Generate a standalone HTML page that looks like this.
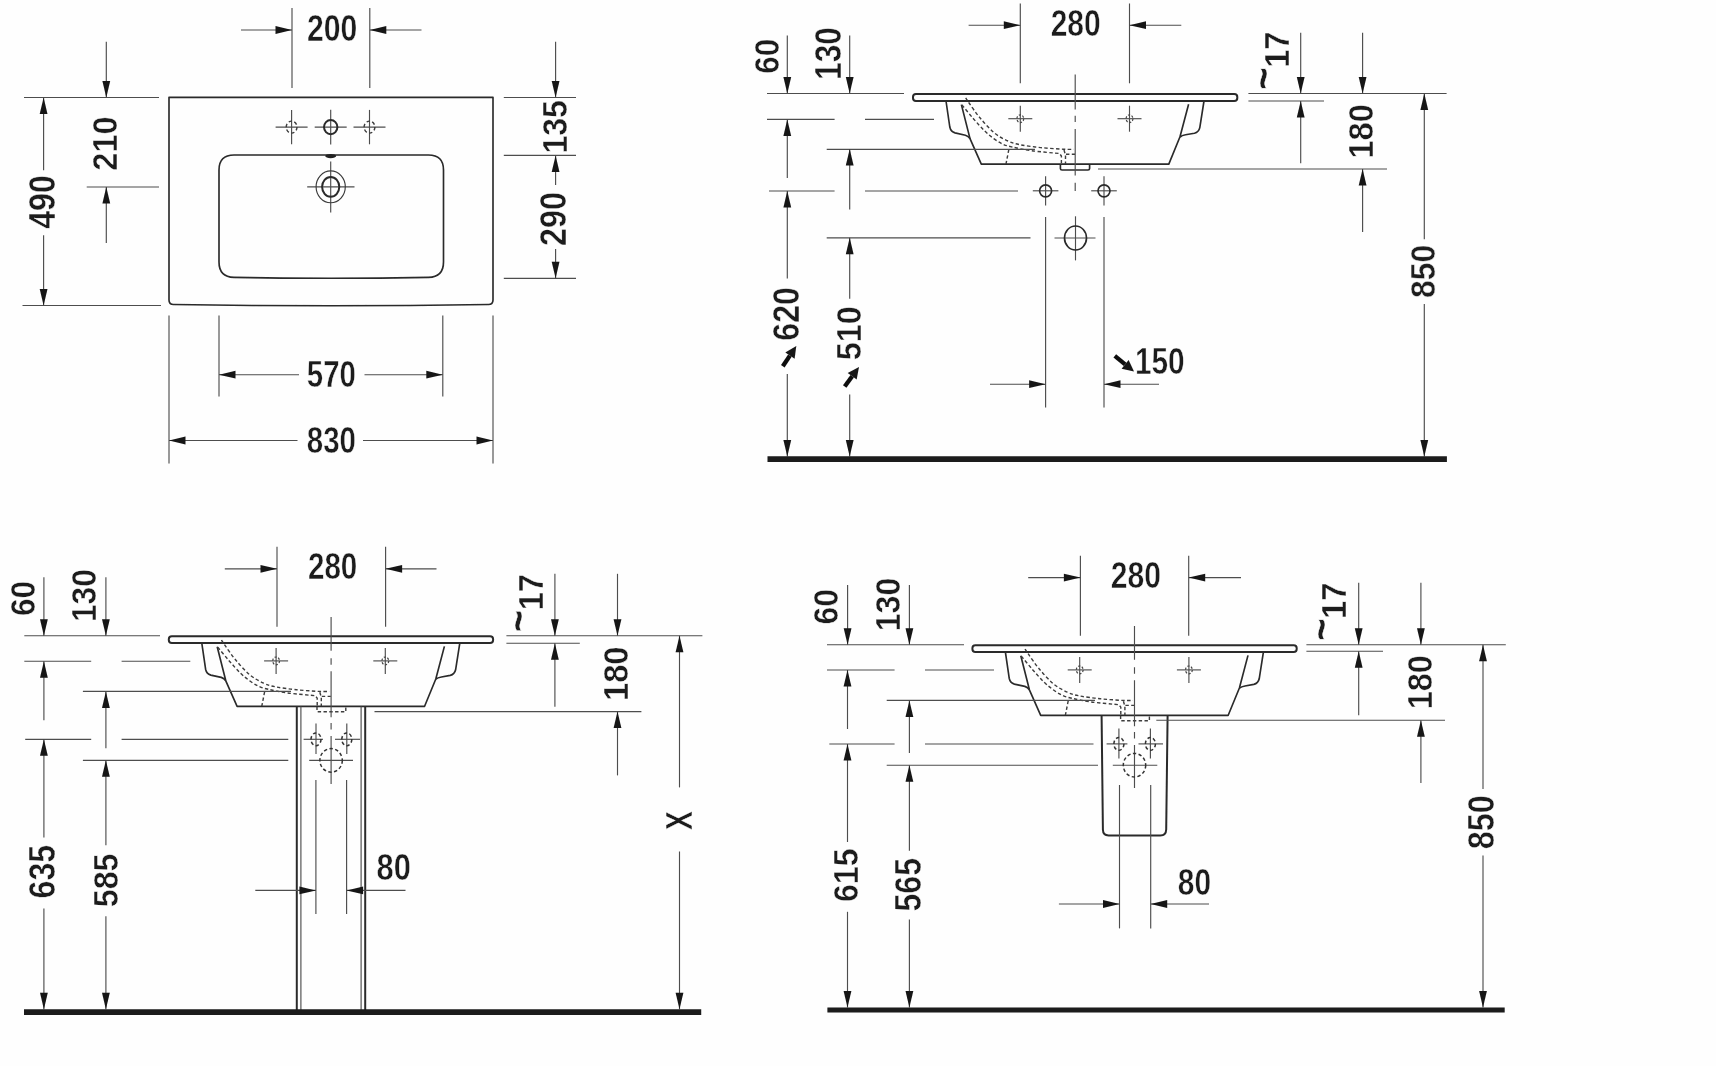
<!DOCTYPE html>
<html><head><meta charset="utf-8"><title>Drawing</title>
<style>
html,body{margin:0;padding:0;background:#fff;}
svg{display:block}
svg text{font-family:"Liberation Sans",sans-serif;font-weight:bold;fill:#1c1c1c;stroke:#fefefe;stroke-width:0.45;vector-effect:non-scaling-stroke;}
.d{stroke:#4d4d4d;stroke-width:1.15;fill:none}
.o{stroke:#2a2a2a;stroke-width:1.65;fill:none;stroke-linejoin:round}
.o2{stroke:#3a3a3a;stroke-width:1.15;fill:none}
.o3{stroke:#2a2a2a;stroke-width:2;fill:none;stroke-linejoin:round}
.hid{stroke:#3c3c3c;stroke-width:1.4;fill:none;stroke-dasharray:3.4 2.4}
.hidc{stroke:#333;stroke-width:1.5;fill:none;stroke-dasharray:3.4 2.4}
.hid2{stroke:#444;stroke-width:1.2;fill:none;stroke-dasharray:2.2 1.6}
.cl{stroke:#444;stroke-width:1.15;fill:none;stroke-dasharray:26 5 6 5}
.h{fill:#161616;stroke:none}
.fl{stroke:#1a1a1a;stroke-width:5.4;fill:none}
</style></head><body>
<svg width="1716" height="1066" viewBox="0 0 1716 1066">
<defs><filter id="sf" x="0" y="0" width="1716" height="1066" filterUnits="userSpaceOnUse"><feGaussianBlur stdDeviation="0.45"/></filter></defs>
<rect width="1716" height="1066" fill="#fefefe"/>
<g filter="url(#sf)">
<path class="o" d="M169 97.3H493V300Q493 304.5 488.5 304.5Q331 307 173.5 304.5Q169 304.5 169 300Z"/>
<path class="o" d="M234 155H428.5Q443.5 155 443.5 170V262Q443.5 277 428.5 277.4Q331 279.2 234 277.4Q219 277 219 262V170Q219 155 234 155Z"/>
<path class="d" d="M275.6 127.1L307.6 127.1"/>
<path class="d" d="M291.6 109.9L291.6 144.3"/>
<ellipse class="hid" cx="291.6" cy="127.1" rx="5.4" ry="6"/>
<path class="d" d="M353.5 127.1L385.5 127.1"/>
<path class="d" d="M369.5 109.9L369.5 144.3"/>
<ellipse class="hid" cx="369.5" cy="127.1" rx="5.4" ry="6"/>
<path class="d" d="M314.7 127.1L346.7 127.1"/>
<path class="d" d="M330.7 109.7L330.7 144.5"/>
<ellipse class="o3" cx="330.7" cy="127.1" rx="6.7" ry="7.1"/>
<ellipse cx="330.7" cy="156.1" rx="5.5" ry="2.1" fill="#222"/>
<path class="d" d="M307.2 186.8L354.5 186.8"/>
<path class="d" d="M330.7 161.4L330.7 212.6"/>
<ellipse class="o2" cx="330.7" cy="186.8" rx="14.6" ry="15.9"/>
<ellipse class="o3" cx="330.7" cy="186.8" rx="8.6" ry="9.9"/>
<path class="d" d="M292.0 8.0L292.0 88.0"/>
<path class="d" d="M369.8 8.0L369.8 88.0"/>
<path class="d" d="M241.0 30.0L292.0 30.0"/>
<polygon class="h" points="292.0,30.0 275.5,26.1 275.5,33.9"/>
<path class="d" d="M421.5 30.0L369.8 30.0"/>
<polygon class="h" points="369.8,30.0 386.3,26.1 386.3,33.9"/>
<text transform="translate(307.02 41.24) scale(0.8380 1.0459)" font-size="36">200</text>
<path class="d" d="M24.0 97.5L159.0 97.5"/>
<path class="d" d="M22.5 305.5L161.0 305.5"/>
<path class="d" d="M43.6 97.5L43.6 170.3"/>
<path class="d" d="M43.6 235.3L43.6 305.5"/>
<polygon class="h" points="43.6,97.5 39.7,114.0 47.5,114.0"/>
<polygon class="h" points="43.6,305.5 39.7,289.0 47.5,289.0"/>
<text transform="translate(55.16 228.80) rotate(-90) scale(0.8913 1.0027)" font-size="36">490</text>
<path class="d" d="M86.7 187.0L159.0 187.0"/>
<path class="d" d="M106.3 41.7L106.3 97.5"/>
<polygon class="h" points="106.3,97.5 102.4,81.0 110.2,81.0"/>
<path class="d" d="M106.3 243.0L106.3 187.0"/>
<polygon class="h" points="106.3,187.0 102.4,203.5 110.2,203.5"/>
<text transform="translate(116.66 170.66) rotate(-90) scale(0.9060 0.9988)" font-size="36">210</text>
<path class="d" d="M503.8 97.5L576.0 97.5"/>
<path class="d" d="M503.8 155.4L576.0 155.4"/>
<path class="d" d="M503.8 278.3L576.0 278.3"/>
<path class="d" d="M555.6 41.7L555.6 97.5"/>
<polygon class="h" points="555.6,97.5 551.7,81.0 559.5,81.0"/>
<text transform="translate(567.37 153.52) rotate(-90) scale(0.8882 0.9992)" font-size="36">135</text>
<path class="d" d="M555.6 185.0L555.6 155.4"/>
<polygon class="h" points="555.6,155.4 551.7,171.9 559.5,171.9"/>
<text transform="translate(565.86 246.05) rotate(-90) scale(0.8990 1.0067)" font-size="36">290</text>
<path class="d" d="M555.6 249.0L555.6 278.3"/>
<polygon class="h" points="555.6,278.3 551.7,261.8 559.5,261.8"/>
<path class="d" d="M219.0 315.5L219.0 396.5"/>
<path class="d" d="M442.8 315.5L442.8 396.5"/>
<path class="d" d="M299.0 374.7L219.0 374.7"/>
<polygon class="h" points="219.0,374.7 235.5,370.8 235.5,378.6"/>
<path class="d" d="M364.5 374.7L442.8 374.7"/>
<polygon class="h" points="442.8,374.7 426.3,370.8 426.3,378.6"/>
<text transform="translate(306.83 386.85) scale(0.8157 1.0381)" font-size="36">570</text>
<path class="d" d="M169.0 315.5L169.0 463.6"/>
<path class="d" d="M493.0 315.5L493.0 463.6"/>
<path class="d" d="M297.5 440.5L169.0 440.5"/>
<polygon class="h" points="169.0,440.5 185.5,436.6 185.5,444.4"/>
<path class="d" d="M363.0 440.5L493.0 440.5"/>
<polygon class="h" points="493.0,440.5 476.5,436.6 476.5,444.4"/>
<text transform="translate(306.82 452.95) scale(0.8192 1.0501)" font-size="36">830</text>
<g transform="translate(0.0 0.0)">
<rect class="o3" x="913" y="94" width="324.3" height="6.9" rx="3"/>
<path class="o" d="M961.4 104.6L970 138.6L981.3 164.1H1168.8L1180 136.8L1188.6 104.2"/>
<path class="o" d="M946 101L949.8 127Q950.8 131.6 955 132.9L965.4 135.2Q968.6 136.2 970 138.6"/>
<path class="o" d="M1204 101L1199.8 127.6Q1198.8 132.2 1194.4 133.2L1185.6 134.8Q1181.8 135.5 1180 137"/>
<path class="hid" d="M965.7 97.8C966.3 98.8 967.1 100.2 969.4 103.5C971.7 106.8 975.6 112.7 979.7 117.5C983.8 122.3 989.1 128.6 993.8 132.5C998.5 136.4 1003.5 139.0 1007.9 141.0C1012.3 143.0 1014.5 143.6 1020.0 144.7C1025.5 145.8 1033.5 146.8 1040.7 147.6C1047.9 148.3 1057.7 148.9 1063.2 149.2C1068.7 149.5 1071.8 149.3 1073.5 149.3"/>
<path class="hid" d="M961.9 104.9C963.8 107.2 969.5 114.2 973.2 118.5C977.0 122.8 981.0 127.3 984.4 130.7C987.8 134.0 990.7 136.3 993.8 138.6C996.9 140.9 1000.1 142.9 1003.2 144.3C1006.3 145.7 1007.9 146.0 1012.6 147.1C1017.3 148.2 1023.5 149.6 1031.3 150.7C1039.1 151.8 1054.8 153.0 1059.5 153.5L1061.4 156V164"/>
<path class="hid" d="M1064 150L1065.5 155V164M1066 154.2H1075"/>
<path class="hid" d="M1008.8 149.6L1006 164"/>
<path class="d" d="M1008.3 118.7L1032.3 118.7"/>
<path class="d" d="M1020.3 105.7L1020.3 131.7"/>
<ellipse class="hid2" cx="1020.3" cy="118.7" rx="3.4" ry="3.9"/>
<path class="d" d="M1117.5 118.7L1141.5 118.7"/>
<path class="d" d="M1129.5 105.7L1129.5 131.7"/>
<ellipse class="hid2" cx="1129.5" cy="118.7" rx="3.4" ry="3.9"/>
<path class="o" d="M1060.4 164.2V168.4Q1060.4 170 1062 170H1088Q1089.6 170 1089.6 168.4V164.2"/>
</g>
<path class="d" d="M1075.2 74.4V109.5M1075.2 115.7V121.9M1075.2 129.0V175.5M1075.2 182.7V191.0"/>
<path class="d" d="M1020.3 3.5L1020.3 83.3"/>
<path class="d" d="M1129.5 3.5L1129.5 83.3"/>
<path class="d" d="M968.6 25.2L1020.3 25.2"/>
<polygon class="h" points="1020.3,25.2 1003.8,21.3 1003.8,29.1"/>
<path class="d" d="M1181.3 25.2L1129.5 25.2"/>
<polygon class="h" points="1129.5,25.2 1146.0,21.3 1146.0,29.1"/>
<text transform="translate(1050.63 36.44) scale(0.8327 1.0420)" font-size="36">280</text>
<path class="d" d="M767.0 93.5L904.0 93.5"/>
<path class="d" d="M767.0 119.4L834.6 119.4"/>
<path class="d" d="M865.0 119.4L934.0 119.4"/>
<path class="d" d="M826.7 149.4L1035.0 149.4"/>
<path class="d" d="M769.0 191.0L834.6 191.0"/>
<path class="d" d="M865.0 191.0L1018.0 191.0"/>
<path class="d" d="M826.7 237.8L1030.5 237.8"/>
<path class="d" d="M787.3 35.6L787.3 93.5"/>
<polygon class="h" points="787.3,93.5 783.4,77.0 791.2,77.0"/>
<text transform="translate(778.76 73.79) rotate(-90) scale(0.8701 0.9910)" font-size="36">60</text>
<path class="d" d="M849.7 35.6L849.7 93.5"/>
<polygon class="h" points="849.7,93.5 845.8,77.0 853.6,77.0"/>
<text transform="translate(840.57 79.89) rotate(-90) scale(0.8758 1.0070)" font-size="36">130</text>
<path class="d" d="M787.3 178.0L787.3 119.4"/>
<polygon class="h" points="787.3,119.4 783.4,135.9 791.2,135.9"/>
<path class="d" d="M849.7 209.5L849.7 149.0"/>
<polygon class="h" points="849.7,149.0 845.8,165.5 853.6,165.5"/>
<path class="d" d="M787.3 191.0L787.3 278.4"/>
<polygon class="h" points="787.3,191.0 783.4,207.5 791.2,207.5"/>
<text transform="translate(798.66 340.73) rotate(-90) scale(0.8952 1.0027)" font-size="36">620</text>
<path d="M782.8 366.3L789.9 355.6" stroke="#111" stroke-width="4.3" fill="none"/>
<polygon class="h" points="796.3,346.0 794.6,358.7 785.3,352.5"/>
<path class="d" d="M787.3 374.0L787.3 456.6"/>
<polygon class="h" points="787.3,456.6 783.4,440.1 791.2,440.1"/>
<path class="d" d="M849.7 237.8L849.7 298.7"/>
<polygon class="h" points="849.7,237.8 845.8,254.3 853.6,254.3"/>
<text transform="translate(861.07 360.27) rotate(-90) scale(0.8993 0.9635)" font-size="36">510</text>
<path d="M844.7 386.5L852.2 376.3" stroke="#111" stroke-width="4.3" fill="none"/>
<polygon class="h" points="859.0,367.0 856.7,379.6 847.7,373.0"/>
<path class="d" d="M849.7 394.4L849.7 456.6"/>
<polygon class="h" points="849.7,456.6 845.8,440.1 853.6,440.1"/>
<path class="d" d="M1032.8 190.8L1058.4 190.8"/>
<path class="d" d="M1045.6 176.2L1045.6 205.4"/>
<circle class="o" cx="1045.6" cy="190.8" r="6"/>
<path class="d" d="M1045.6 217.0L1045.6 407.5"/>
<path class="d" d="M1091.2 190.8L1116.8 190.8"/>
<path class="d" d="M1104.0 176.2L1104.0 205.4"/>
<circle class="o" cx="1104" cy="190.8" r="6"/>
<path class="d" d="M1104.0 217.0L1104.0 407.5"/>
<path class="d" d="M1054.5 238.0L1095.5 238.0"/>
<path class="d" d="M1075.5 216.3L1075.5 260.4"/>
<ellipse class="o" cx="1075.5" cy="238" rx="11" ry="12"/>
<path class="d" d="M990.0 384.2L1045.6 384.2"/>
<polygon class="h" points="1045.6,384.2 1029.1,380.3 1029.1,388.1"/>
<path class="d" d="M1159.0 384.2L1104.0 384.2"/>
<polygon class="h" points="1104.0,384.2 1120.5,380.3 1120.5,388.1"/>
<path d="M1114.8 355.9L1125.1 364.3" stroke="#111" stroke-width="4.3" fill="none"/>
<polygon class="h" points="1134.0,371.6 1121.6,368.7 1128.6,360.0"/>
<text transform="translate(1134.92 374.06) scale(0.8278 1.0067)" font-size="36">150</text>
<path class="d" d="M1248.4 93.5L1446.6 93.5"/>
<path class="d" d="M1248.4 101.0L1324.0 101.0"/>
<path class="d" d="M1098.0 169.0L1387.0 169.0"/>
<path class="d" d="M1300.7 32.7L1300.7 93.5"/>
<polygon class="h" points="1300.7,93.5 1296.8,77.0 1304.6,77.0"/>
<path class="d" d="M1300.7 163.3L1300.7 101.0"/>
<polygon class="h" points="1300.7,101.0 1296.8,117.5 1304.6,117.5"/>
<text transform="translate(1288.52 67.87) rotate(-90) scale(0.9104 0.9632)" font-size="36">17</text>
<text transform="translate(1279.07 89.75) rotate(-90) scale(1.0640 1.2593)" font-size="36">~</text>
<path class="d" d="M1362.6 32.7L1362.6 93.5"/>
<polygon class="h" points="1362.6,93.5 1358.7,77.0 1366.5,77.0"/>
<text transform="translate(1373.47 158.56) rotate(-90) scale(0.9077 0.9792)" font-size="36">180</text>
<path class="d" d="M1362.6 232.0L1362.6 169.0"/>
<polygon class="h" points="1362.6,169.0 1358.7,185.5 1366.5,185.5"/>
<path class="d" d="M1424.3 93.5L1424.3 239.3"/>
<polygon class="h" points="1424.3,93.5 1420.4,110.0 1428.2,110.0"/>
<text transform="translate(1435.37 298.16) rotate(-90) scale(0.8889 0.9792)" font-size="36">850</text>
<path class="d" d="M1424.3 304.0L1424.3 456.4"/>
<polygon class="h" points="1424.3,456.4 1420.4,439.9 1428.2,439.9"/>
<path class="fl" d="M767.5 459.2H1446.9" style="stroke-width:5.7"/>
<g transform="translate(-744.2 542.2)">
<rect class="o3" x="913" y="94" width="324.3" height="6.9" rx="3"/>
<path class="o" d="M961.4 104.6L970 138.6L981.3 164.1H1168.8L1180 136.8L1188.6 104.2"/>
<path class="o" d="M946 101L949.8 127Q950.8 131.6 955 132.9L965.4 135.2Q968.6 136.2 970 138.6"/>
<path class="o" d="M1204 101L1199.8 127.6Q1198.8 132.2 1194.4 133.2L1185.6 134.8Q1181.8 135.5 1180 137"/>
<path class="hid" d="M965.7 97.8C966.3 98.8 967.1 100.2 969.4 103.5C971.7 106.8 975.6 112.7 979.7 117.5C983.8 122.3 989.1 128.6 993.8 132.5C998.5 136.4 1003.5 139.0 1007.9 141.0C1012.3 143.0 1014.5 143.6 1020.0 144.7C1025.5 145.8 1033.5 146.8 1040.7 147.6C1047.9 148.3 1057.7 148.9 1063.2 149.2C1068.7 149.5 1071.8 149.3 1073.5 149.3"/>
<path class="hid" d="M961.9 104.9C963.8 107.2 969.5 114.2 973.2 118.5C977.0 122.8 981.0 127.3 984.4 130.7C987.8 134.0 990.7 136.3 993.8 138.6C996.9 140.9 1000.1 142.9 1003.2 144.3C1006.3 145.7 1007.9 146.0 1012.6 147.1C1017.3 148.2 1023.5 149.6 1031.3 150.7C1039.1 151.8 1054.8 153.0 1059.5 153.5L1061.4 156V164"/>
<path class="hid" d="M1064 150L1065.5 155V164M1066 154.2H1075"/>
<path class="hid" d="M1008.8 149.6L1006 164"/>
<path class="d" d="M1008.3 118.7L1032.3 118.7"/>
<path class="d" d="M1020.3 105.7L1020.3 131.7"/>
<ellipse class="hid2" cx="1020.3" cy="118.7" rx="3.4" ry="3.9"/>
<path class="d" d="M1117.5 118.7L1141.5 118.7"/>
<path class="d" d="M1129.5 105.7L1129.5 131.7"/>
<ellipse class="hid2" cx="1129.5" cy="118.7" rx="3.4" ry="3.9"/>
<path class="hid" d="M1061.2 164.5V169.6H1090V164.5"/>
</g>
<path class="d" d="M331.1 616.9V650.7M331.1 658.2V664.7M331.1 671.3V717.3M331.1 722.9V729.5M331.1 736.0V783.9"/>
<path class="d" d="M277.0 546.8L277.0 626.7"/>
<path class="d" d="M385.6 546.8L385.6 626.7"/>
<path class="d" d="M224.8 568.8L277.0 568.8"/>
<polygon class="h" points="277.0,568.8 260.5,564.9 260.5,572.7"/>
<path class="d" d="M436.5 568.8L385.6 568.8"/>
<polygon class="h" points="385.6,568.8 402.1,564.9 402.1,572.7"/>
<text transform="translate(307.94 579.45) scale(0.8223 1.0224)" font-size="36">280</text>
<path class="d" d="M24.3 635.7L160.0 635.7"/>
<path class="d" d="M24.3 661.2L91.2 661.2"/>
<path class="d" d="M121.6 661.2L190.3 661.2"/>
<path class="d" d="M82.9 691.4L291.0 691.4"/>
<path class="d" d="M25.2 739.3L91.2 739.3"/>
<path class="d" d="M121.6 739.3L288.3 739.3"/>
<path class="d" d="M82.9 760.3L288.3 760.3"/>
<path class="d" d="M43.9 577.2L43.9 635.7"/>
<polygon class="h" points="43.9,635.7 40.0,619.2 47.8,619.2"/>
<text transform="translate(35.06 616.11) rotate(-90) scale(0.8808 0.9949)" font-size="36">60</text>
<path class="d" d="M105.9 577.2L105.9 635.7"/>
<polygon class="h" points="105.9,635.7 102.0,619.2 109.8,619.2"/>
<text transform="translate(96.38 622.11) rotate(-90) scale(0.8829 0.9875)" font-size="36">130</text>
<path class="d" d="M43.9 720.2L43.9 661.2"/>
<polygon class="h" points="43.9,661.2 40.0,677.7 47.8,677.7"/>
<path class="d" d="M105.9 748.3L105.9 691.4"/>
<polygon class="h" points="105.9,691.4 102.0,707.9 109.8,707.9"/>
<path class="d" d="M43.9 739.3L43.9 837.4"/>
<polygon class="h" points="43.9,739.3 40.0,755.8 47.8,755.8"/>
<text transform="translate(54.96 898.53) rotate(-90) scale(0.8969 1.0149)" font-size="36">635</text>
<path class="d" d="M43.9 908.4L43.9 1009.3"/>
<polygon class="h" points="43.9,1009.3 40.0,992.8 47.8,992.8"/>
<path class="d" d="M105.9 760.3L105.9 845.3"/>
<polygon class="h" points="105.9,760.3 102.0,776.8 109.8,776.8"/>
<text transform="translate(117.76 907.27) rotate(-90) scale(0.8958 0.9949)" font-size="36">585</text>
<path class="d" d="M105.9 916.3L105.9 1009.3"/>
<polygon class="h" points="105.9,1009.3 102.0,992.8 109.8,992.8"/>
<path class="o3" d="M296.8 706.4V1010"/>
<path class="o3" d="M365.2 706.4V1010"/>
<path class="d" d="M300.9 706.4V1010"/>
<path class="d" d="M361.1 706.4V1010"/>
<path class="d" d="M303.6 739.3L323.0 739.3"/>
<path class="d" d="M316.0 723.6L316.0 754.0"/>
<ellipse class="hidc" cx="316" cy="739.3" rx="5" ry="6.4"/>
<path class="d" d="M335.0 739.3L360.0 739.3"/>
<path class="d" d="M346.8 723.6L346.8 754.0"/>
<ellipse class="hidc" cx="346.8" cy="739.3" rx="5" ry="6.4"/>
<path class="d" d="M309.2 760.3L353.0 760.3"/>
<ellipse class="hidc" cx="331.1" cy="760.4" rx="11.2" ry="11.8"/>
<path class="d" d="M315.9 780.0L315.9 914.0"/>
<path class="d" d="M346.6 780.0L346.6 914.0"/>
<path class="d" d="M255.3 890.4L315.9 890.4"/>
<polygon class="h" points="315.9,890.4 299.4,886.5 299.4,894.3"/>
<path class="d" d="M405.5 890.4L346.6 890.4"/>
<polygon class="h" points="346.6,890.4 363.1,886.5 363.1,894.3"/>
<text transform="translate(376.58 880.04) scale(0.8552 1.0459)" font-size="36">80</text>
<path class="d" d="M506.4 635.7L702.4 635.7"/>
<path class="d" d="M506.4 643.2L579.8 643.2"/>
<path class="d" d="M374.5 711.6L641.4 711.6"/>
<path class="d" d="M554.9 573.8L554.9 635.7"/>
<polygon class="h" points="554.9,635.7 551.0,619.2 558.8,619.2"/>
<path class="d" d="M554.9 706.7L554.9 643.2"/>
<polygon class="h" points="554.9,643.2 551.0,659.7 558.8,659.7"/>
<text transform="translate(543.42 610.37) rotate(-90) scale(0.9104 0.9632)" font-size="36">17</text>
<text transform="translate(533.97 632.25) rotate(-90) scale(1.0640 1.2593)" font-size="36">~</text>
<path class="d" d="M617.5 573.8L617.5 635.7"/>
<polygon class="h" points="617.5,635.7 613.6,619.2 621.4,619.2"/>
<text transform="translate(628.27 701.07) rotate(-90) scale(0.9095 0.9753)" font-size="36">180</text>
<path class="d" d="M617.5 775.4L617.5 711.6"/>
<polygon class="h" points="617.5,711.6 613.6,728.1 621.4,728.1"/>
<path class="d" d="M679.5 635.7L679.5 787.4"/>
<polygon class="h" points="679.5,635.7 675.6,652.2 683.4,652.2"/>
<text transform="translate(691.62 829.90) rotate(-90) scale(0.7825 1.0319)" font-size="36">X</text>
<path class="d" d="M679.5 851.5L679.5 1009.3"/>
<polygon class="h" points="679.5,1009.3 675.6,992.8 683.4,992.8"/>
<path class="fl" d="M24 1012.2H701.2" style="stroke-width:5.7"/>
<g transform="translate(59.4 551.2)">
<rect class="o3" x="913" y="94" width="324.3" height="6.9" rx="3"/>
<path class="o" d="M961.4 104.6L970 138.6L981.3 164.1H1168.8L1180 136.8L1188.6 104.2"/>
<path class="o" d="M946 101L949.8 127Q950.8 131.6 955 132.9L965.4 135.2Q968.6 136.2 970 138.6"/>
<path class="o" d="M1204 101L1199.8 127.6Q1198.8 132.2 1194.4 133.2L1185.6 134.8Q1181.8 135.5 1180 137"/>
<path class="hid" d="M965.7 97.8C966.3 98.8 967.1 100.2 969.4 103.5C971.7 106.8 975.6 112.7 979.7 117.5C983.8 122.3 989.1 128.6 993.8 132.5C998.5 136.4 1003.5 139.0 1007.9 141.0C1012.3 143.0 1014.5 143.6 1020.0 144.7C1025.5 145.8 1033.5 146.8 1040.7 147.6C1047.9 148.3 1057.7 148.9 1063.2 149.2C1068.7 149.5 1071.8 149.3 1073.5 149.3"/>
<path class="hid" d="M961.9 104.9C963.8 107.2 969.5 114.2 973.2 118.5C977.0 122.8 981.0 127.3 984.4 130.7C987.8 134.0 990.7 136.3 993.8 138.6C996.9 140.9 1000.1 142.9 1003.2 144.3C1006.3 145.7 1007.9 146.0 1012.6 147.1C1017.3 148.2 1023.5 149.6 1031.3 150.7C1039.1 151.8 1054.8 153.0 1059.5 153.5L1061.4 156V164"/>
<path class="hid" d="M1064 150L1065.5 155V164M1066 154.2H1075"/>
<path class="hid" d="M1008.8 149.6L1006 164"/>
<path class="d" d="M1008.3 118.7L1032.3 118.7"/>
<path class="d" d="M1020.3 105.7L1020.3 131.7"/>
<ellipse class="hid2" cx="1020.3" cy="118.7" rx="3.4" ry="3.9"/>
<path class="d" d="M1117.5 118.7L1141.5 118.7"/>
<path class="d" d="M1129.5 105.7L1129.5 131.7"/>
<ellipse class="hid2" cx="1129.5" cy="118.7" rx="3.4" ry="3.9"/>
<path class="hid" d="M1061.2 164.5V169.6H1090V164.5"/>
</g>
<path class="d" d="M1134.5 625.9V659.7M1134.5 667.2V673.7M1134.5 680.3V726.3M1134.5 731.9V738.5M1134.5 745.0V788.0"/>
<path class="d" d="M1080.4 555.8L1080.4 635.7"/>
<path class="d" d="M1188.7 555.8L1188.7 635.7"/>
<path class="d" d="M1028.2 577.6L1080.4 577.6"/>
<polygon class="h" points="1080.4,577.6 1063.9,573.7 1063.9,581.5"/>
<path class="d" d="M1241.0 577.6L1188.7 577.6"/>
<polygon class="h" points="1188.7,577.6 1205.2,573.7 1205.2,581.5"/>
<text transform="translate(1110.73 588.05) scale(0.8362 1.0342)" font-size="36">280</text>
<path class="d" d="M827.0 644.7L964.0 644.7"/>
<path class="d" d="M827.0 670.0L894.6 670.0"/>
<path class="d" d="M925.0 670.0L994.0 670.0"/>
<path class="d" d="M886.7 700.4L1095.0 700.4"/>
<path class="d" d="M829.3 744.0L894.6 744.0"/>
<path class="d" d="M925.0 744.0L1093.5 744.0"/>
<path class="d" d="M886.7 765.2L1098.0 765.2"/>
<path class="d" d="M847.6 585.0L847.6 644.8"/>
<polygon class="h" points="847.6,644.8 843.7,628.3 851.5,628.3"/>
<text transform="translate(838.46 624.42) rotate(-90) scale(0.8862 0.9870)" font-size="36">60</text>
<path class="d" d="M909.4 585.0L909.4 644.8"/>
<polygon class="h" points="909.4,644.8 905.5,628.3 913.3,628.3"/>
<text transform="translate(899.68 631.23) rotate(-90) scale(0.8917 0.9718)" font-size="36">130</text>
<path class="d" d="M847.5 729.0L847.5 670.0"/>
<polygon class="h" points="847.5,670.0 843.6,686.5 851.4,686.5"/>
<path class="d" d="M909.4 753.0L909.4 700.4"/>
<polygon class="h" points="909.4,700.4 905.5,716.9 913.3,716.9"/>
<path class="d" d="M847.5 744.0L847.5 842.0"/>
<polygon class="h" points="847.5,744.0 843.6,760.5 851.4,760.5"/>
<text transform="translate(858.06 901.92) rotate(-90) scale(0.8882 0.9949)" font-size="36">615</text>
<path class="d" d="M847.5 911.8L847.5 1007.5"/>
<polygon class="h" points="847.5,1007.5 843.6,991.0 851.4,991.0"/>
<path class="d" d="M909.4 765.2L909.4 850.8"/>
<polygon class="h" points="909.4,765.2 905.5,781.7 913.3,781.7"/>
<text transform="translate(921.36 911.46) rotate(-90) scale(0.8906 1.0027)" font-size="36">565</text>
<path class="d" d="M909.4 919.6L909.4 1007.5"/>
<polygon class="h" points="909.4,1007.5 905.5,991.0 913.3,991.0"/>
<path class="o3" d="M1101.6 715.4L1102.9 829.5Q1103 835.4 1108.6 835.4H1160.4Q1166 835.4 1166.2 829.5L1167.6 715.4"/>
<path class="d" d="M1106.6 743.9L1127.4 743.9"/>
<path class="d" d="M1118.9 728.5L1118.9 758.5"/>
<ellipse class="hidc" cx="1118.9" cy="743.9" rx="5" ry="6.4"/>
<path class="d" d="M1138.5 743.9L1163.0 743.9"/>
<path class="d" d="M1150.4 728.5L1150.4 758.5"/>
<ellipse class="hidc" cx="1150.4" cy="743.9" rx="5" ry="6.4"/>
<path class="d" d="M1112.8 765.2L1157.3 765.2"/>
<ellipse class="hidc" cx="1134.5" cy="765.2" rx="11.2" ry="11.8"/>
<path class="d" d="M1119.5 785.0L1119.5 928.4"/>
<path class="d" d="M1150.7 785.0L1150.7 928.4"/>
<path class="d" d="M1058.9 904.0L1119.5 904.0"/>
<polygon class="h" points="1119.5,904.0 1103.0,900.1 1103.0,907.9"/>
<path class="d" d="M1209.0 904.0L1150.7 904.0"/>
<polygon class="h" points="1150.7,904.0 1167.2,900.1 1167.2,907.9"/>
<text transform="translate(1177.81 894.55) scale(0.8311 1.0224)" font-size="36">80</text>
<path class="d" d="M1306.4 644.7L1505.8 644.7"/>
<path class="d" d="M1306.4 651.2L1383.0 651.2"/>
<path class="d" d="M1156.3 720.2L1445.0 720.2"/>
<path class="d" d="M1358.7 582.8L1358.7 644.7"/>
<polygon class="h" points="1358.7,644.7 1354.8,628.2 1362.6,628.2"/>
<path class="d" d="M1358.7 715.2L1358.7 651.2"/>
<polygon class="h" points="1358.7,651.2 1354.8,667.7 1362.6,667.7"/>
<text transform="translate(1346.12 618.97) rotate(-90) scale(0.9104 0.9632)" font-size="36">17</text>
<text transform="translate(1336.67 640.85) rotate(-90) scale(1.0640 1.2593)" font-size="36">~</text>
<path class="d" d="M1420.9 582.8L1420.9 644.7"/>
<polygon class="h" points="1420.9,644.7 1417.0,628.2 1424.8,628.2"/>
<text transform="translate(1432.46 709.35) rotate(-90) scale(0.9024 0.9910)" font-size="36">180</text>
<path class="d" d="M1420.9 783.0L1420.9 720.2"/>
<polygon class="h" points="1420.9,720.2 1417.0,736.7 1424.8,736.7"/>
<path class="d" d="M1483.0 644.7L1483.0 789.0"/>
<polygon class="h" points="1483.0,644.7 1479.1,661.2 1486.9,661.2"/>
<text transform="translate(1493.85 849.37) rotate(-90) scale(0.9011 1.0263)" font-size="36">850</text>
<path class="d" d="M1483.0 855.4L1483.0 1007.5"/>
<polygon class="h" points="1483.0,1007.5 1479.1,991.0 1486.9,991.0"/>
<path class="fl" d="M827.4 1010H1504.7" style="stroke-width:5.2"/>
</g>
</svg>
</body></html>
